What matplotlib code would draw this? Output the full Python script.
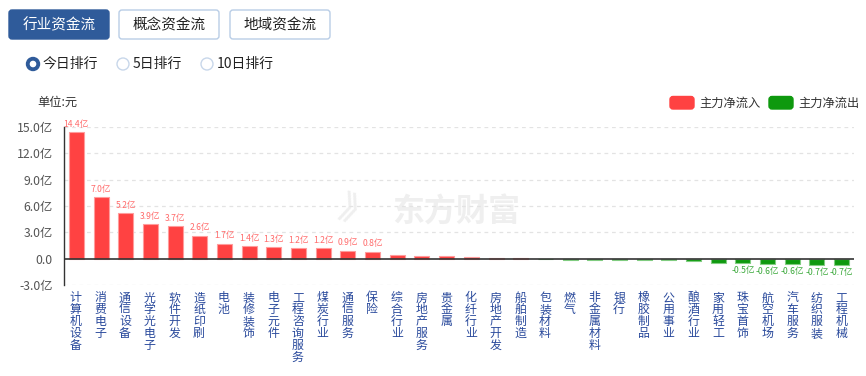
import matplotlib
matplotlib.use("Agg")
import matplotlib.pyplot as plt
from matplotlib.patches import FancyBboxPatch, Circle

plt.rcParams['font.family'] = ['Noto Sans CJK SC', 'DejaVu Sans']

categories = ["计算机设备", "消费电子", "通信设备", "光学光电子", "软件开发", "造纸印刷", "电池",
              "装修装饰", "电子元件", "工程咨询服务", "煤炭行业", "通信服务", "保险", "综合行业",
              "房地产服务", "贵金属", "化纤行业", "房地产开发", "船舶制造", "包装材料", "燃气",
              "非金属材料", "银行", "橡胶制品", "公用事业", "酿酒行业", "家用轻工", "珠宝首饰",
              "航空机场", "汽车服务", "纺织服装", "工程机械"]
values = [14.4, 7.0, 5.2, 3.9, 3.7, 2.6, 1.7, 1.4, 1.3, 1.2, 1.2, 0.9, 0.8, 0.45,
          0.36, 0.35, 0.22, 0.13, 0.12, -0.06, -0.15, -0.15, -0.16, -0.18, -0.2, -0.28,
          -0.45, -0.5, -0.6, -0.6, -0.7, -0.7]
yticks = [-3, 0, 3, 6, 9, 12, 15]
ytick_labels = ["-3.0亿", "0.0", "3.0亿", "6.0亿", "9.0亿", "12.0亿", "15.0亿"]
tabs = ["行业资金流", "概念资金流", "地域资金流"]
radios = ["今日排行", "5日排行", "10日排行"]
legend_labels = ["主力净流入", "主力净流出"]

W, H = 866, 376
fig = plt.figure(figsize=(W / 100, H / 100), dpi=100)

# UI overlay in pixel coordinates
ui = fig.add_axes([0, 0, 1, 1])
ui.set_xlim(0, W)
ui.set_ylim(H, 0)
ui.axis('off')

BLUE = '#2f5b9a'
tab_x = [9, 119, 230]
for i, (t, x0) in enumerate(zip(tabs, tab_x)):
    sel = i == 0
    p = FancyBboxPatch((x0, 10), 100, 29, boxstyle="round,pad=0,rounding_size=3",
                       facecolor=BLUE if sel else 'white',
                       edgecolor=BLUE if sel else '#b9cde6', linewidth=1)
    ui.add_patch(p)
    ui.text(x0 + 50, 25, t, ha='center', va='center', fontsize=10.5,
            color='white' if sel else '#222222')

radio_x = [33, 123, 207]
for i, (t, x0) in enumerate(zip(radios, radio_x)):
    if i == 0:
        ui.add_patch(Circle((x0, 64), 6.5, facecolor=BLUE, edgecolor=BLUE))
        ui.add_patch(Circle((x0, 64), 2.6, facecolor='white', edgecolor='white'))
    else:
        ui.add_patch(Circle((x0, 64), 6, facecolor='white', edgecolor='#c8d7ea', linewidth=1))
    ui.text(x0 + 10, 64, t, ha='left', va='center', fontsize=10, color='#222222')

ui.text(37, 102, "单位:元", ha='left', va='center', fontsize=8.8, color='#333333')

RED = '#ff4242'
GREEN = '#0e990e'
leg_x = [670, 769]
for t, x0, c in zip(legend_labels, leg_x, [RED, GREEN]):
    ui.add_patch(FancyBboxPatch((x0, 96.5), 24, 12.5, boxstyle="round,pad=0,rounding_size=3",
                                facecolor=c, edgecolor=c))
    ui.text(x0 + 29, 103, t, ha='left', va='center', fontsize=8.8, color='#333333')

# watermark
ui.text(456, 213, "东方财富", ha='center', va='center', fontsize=23, fontweight='bold',
        color='#efefef', zorder=0)
ui.text(355, 213, "》", ha='center', va='center', fontsize=24, fontweight='bold',
        color='#efefef', zorder=0, rotation=-20)

# category labels (vertical stacked characters), pixel coords
x = list(range(len(categories)))
for xi, c in zip(x, categories):
    cx = 75.5 + xi * 24.71
    for k, ch in enumerate(c):
        ui.text(cx, 298 + k * 11.8, ch, ha='center', va='center',
                fontsize=8.6, color='#2a4a9c')

# main chart
ax = fig.add_axes([64 / W, 1 - 285 / H, (854 - 64) / W, (285 - 127) / H])
ax.patch.set_alpha(0)
colors = [RED if v >= 0 else GREEN for v in values]
edges = ['#ff9c9c' if v >= 0 else '#80cc80' for v in values]
ax.bar(x, values, width=0.61, color=colors, edgecolor=edges, linewidth=0.8, zorder=3)
ax.set_xlim(-0.5, len(categories) - 0.5)
ax.set_ylim(-3, 15)
ax.set_yticks(yticks)
ax.set_yticklabels(ytick_labels)
ax.tick_params(axis='y', length=0, pad=8, labelsize=8.8, labelcolor='#555555')
ax.set_xticks([])
for s in ['top', 'right', 'bottom']:
    ax.spines[s].set_visible(False)
ax.spines['left'].set_color('#333333')
ax.spines['left'].set_linewidth(1)
for yt in yticks:
    if yt == 0:
        ax.axhline(0, color='#333333', linewidth=1.2, zorder=4)
    else:
        ax.axhline(yt, color='#e3e3e3', linewidth=0.9, linestyle=(0, (3, 3)), zorder=1)

for xi, v in zip(x, values):
    if v >= 0.8:
        ax.annotate(f"{v:.1f}亿", (xi, v), xytext=(0, 2.5), textcoords='offset points',
                    ha='center', va='bottom', fontsize=6.2, color='#ff6b6b')
    elif v <= -0.5:
        ax.annotate(f"{v:.1f}亿", (xi, v), xytext=(0, -2), textcoords='offset points',
                    ha='center', va='top', fontsize=6.2, color='#3aa83a')

fig.savefig("out.png", dpi=100)
